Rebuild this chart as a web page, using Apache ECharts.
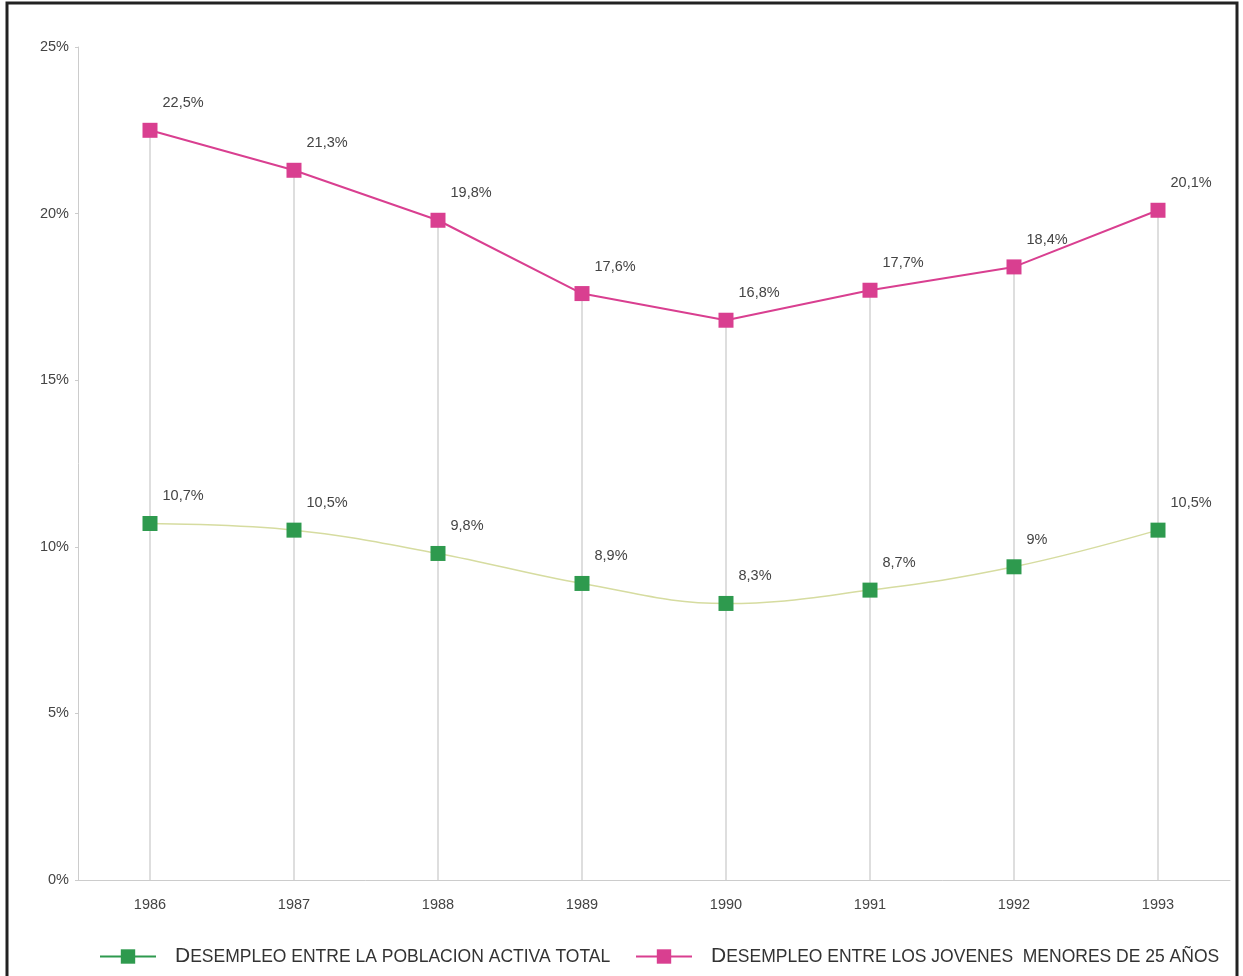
<!DOCTYPE html>
<html>
<head>
<meta charset="utf-8">
<script src="https://cdn.jsdelivr.net/npm/echarts@6/dist/echarts.min.js"></script>
<style>
  html, body { margin: 0; padding: 0; background: #fff; }
  #chart { width: 1243px; height: 976px; }
</style>
</head>
<body>
<div id="chart"></div>
<script>
// Years on the category axis
const years = ["1986", "1987", "1988", "1989", "1990", "1991", "1992", "1993"];

// Unemployment among total active population (%)
const totalValues = [10.7, 10.5, 9.8, 8.9, 8.3, 8.7, 9.4, 10.5];
const totalLabels = ["10,7%", "10,5%", "9,8%", "8,9%", "8,3%", "8,7%", "9%", "10,5%"];

// Unemployment among young people under 25 (%)
const youthValues = [22.5, 21.3, 19.8, 17.6, 16.8, 17.7, 18.4, 20.1];
const youthLabels = ["22,5%", "21,3%", "19,8%", "17,6%", "16,8%", "17,7%", "18,4%", "20,1%"];

const totalName = "DESEMPLEO ENTRE LA POBLACION ACTIVA TOTAL";
const youthName = "DESEMPLEO ENTRE LOS JOVENES  MENORES DE 25 AÑOS";

const GREEN = "#2e9a4e";
const PINK = "#d93f90";
const FONT = "'Liberation Sans', Arial, sans-serif";

const labelStyle = (labels) => ({
  show: true,
  position: [20, -27],
  color: "#444",
  fontSize: 14.5,
  fontFamily: FONT,
  formatter: (p) => labels[p.dataIndex],
});

// small-caps look: bigger first letter, rest smaller
const legendText = {
  color: "#333",
  padding: [0, 0, 0, 14],
  rich: {
    a: { fontSize: 21, fontFamily: FONT, color: "#333" },
    b: { fontSize: 17.5, fontFamily: FONT, color: "#333", padding: [2, 0, 0, 0] },
  },
};

const legendBase = (name, color, left) => ({
  bottom: 4,
  left: left,
  itemWidth: 56,
  itemHeight: 18,
  data: [{ name: name, lineStyle: { color: color, width: 2 } }],
  formatter: (n) => `{a|${n[0]}}{b|${n.slice(1)}}`,
  textStyle: legendText,
});

const option = {
  backgroundColor: "#fff",
  animation: false,
  textStyle: { fontFamily: FONT },
  graphic: [
    {
      type: "rect",
      shape: { x: 7, y: 3, width: 1230, height: 990 },
      style: { fill: "none", stroke: "#222", lineWidth: 3 },
      silent: true,
    },
  ],
  grid: { left: 78, right: 13, top: 47, bottom: 96 },
  xAxis: {
    type: "category",
    data: years,
    boundaryGap: true,
    axisLine: { lineStyle: { color: "#ccc", width: 1 } },
    axisTick: { show: false },
    axisLabel: { color: "#444", fontSize: 14.5, margin: 17, fontFamily: FONT },
    splitLine: { show: false },
  },
  yAxis: {
    type: "value",
    min: 0,
    max: 25,
    interval: 5,
    axisLine: { show: true, lineStyle: { color: "#ccc", width: 1 } },
    axisTick: { show: true, length: 3, lineStyle: { color: "#ccc" } },
    axisLabel: { color: "#444", fontSize: 14.5, margin: 9, fontFamily: FONT, formatter: "{value}%" },
    splitLine: { show: false },
  },
  legend: [
    legendBase(totalName, GREEN, 94),
    legendBase(youthName, PINK, 630),
  ],
  series: [
    {
      // thin drop lines from each point down to the axis
      name: "drop",
      type: "bar",
      data: youthValues,
      barWidth: 1,
      silent: true,
      itemStyle: { color: "#bdbdbd" },
      z: 1,
    },
    {
      name: totalName,
      type: "line",
      data: totalValues,
      smooth: 0.4,
      symbol: "rect",
      symbolSize: 15,
      lineStyle: { color: "#d6dca0", width: 1.5 },
      itemStyle: { color: GREEN },
      label: labelStyle(totalLabels),
      z: 3,
    },
    {
      name: youthName,
      type: "line",
      data: youthValues,
      symbol: "rect",
      symbolSize: 15,
      lineStyle: { color: PINK, width: 2 },
      itemStyle: { color: PINK },
      label: labelStyle(youthLabels),
      z: 3,
    },
  ],
};

const chart = echarts.init(document.getElementById("chart"));
chart.setOption(option);
</script>
</body>
</html>
